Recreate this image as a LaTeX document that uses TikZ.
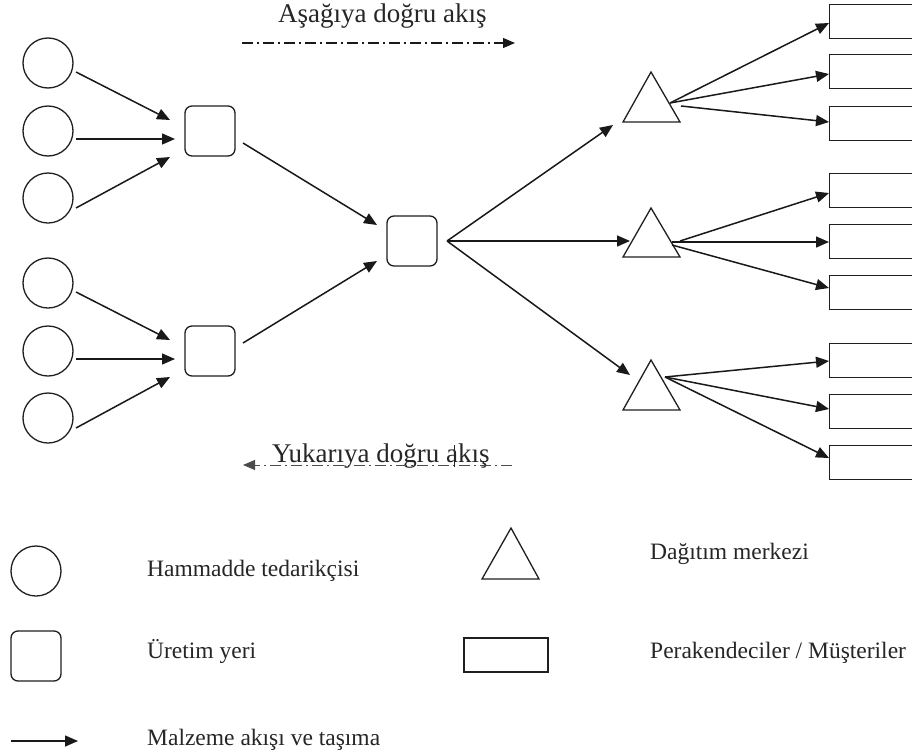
\documentclass[tikz,border=0pt]{standalone}
\usepackage{fontspec}
\setmainfont{Liberation Serif}
\usetikzlibrary{arrows.meta}
\begin{document}
\begin{tikzpicture}[x=1pt,y=-1pt,
  ink/.style={draw=black!88},
  supplier/.style={circle, ink, line width=1.3pt, minimum size=50pt, inner sep=0pt},
  plant/.style={rectangle, rounded corners=7pt, ink, line width=1.3pt, minimum size=50pt, inner sep=0pt},
  retail/.style={rectangle, ink, line width=1.3pt, minimum width=120pt, minimum height=34pt, inner sep=0pt, anchor=north west},
  tri/.style={ink, line width=1.3pt, line join=miter},
  arr/.style={draw=black!90, line width=1.5pt, -{Triangle[length=13pt,width=11pt]}},
  flow/.style={draw=black!90, line width=1.2pt, dash pattern=on 11pt off 4pt on 2pt off 4pt},
  title/.style={font=\fontsize{27}{30}\selectfont, text=black!85, anchor=base west, inner sep=0pt},
  legend/.style={font=\fontsize{23.5}{26}\selectfont, text=black!85, anchor=base west, inner sep=0pt}]
\clip (0,0) rectangle (912,755);
\fill[white] (0,0) rectangle (912,755);

% suppliers
\node[supplier] (s1) at (48,63) {};
\node[supplier] (s2) at (48,131) {};
\node[supplier] (s3) at (48,198) {};
\node[supplier] (s4) at (48,283) {};
\node[supplier] (s5) at (48,351) {};
\node[supplier] (s6) at (48,418) {};
% plants
\node[plant] (p1) at (210,131) {};
\node[plant] (p2) at (210,351) {};
\node[plant] (pc) at (412,241) {};
% distribution centres
\draw[tri] (651,72) coordinate (d1) -- (623,122) -- (680,122) -- cycle;
\draw[tri] (651,208) coordinate (d2) -- (623,257) -- (680,257) -- cycle;
\draw[tri] (651,360) coordinate (d3) -- (623,410) -- (680,410) -- cycle;
% retailers
\node[retail] (r1) at (829,4) {};
\node[retail] (r2) at (829,54) {};
\node[retail] (r3) at (829,106) {};
\node[retail] (r4) at (829,173) {};
\node[retail] (r5) at (829,224) {};
\node[retail] (r6) at (829,275) {};
\node[retail] (r7) at (829,343) {};
\node[retail] (r8) at (829,394) {};
\node[retail] (r9) at (829,445) {};

% arrow end points
\coordinate (a1s) at (76,72);  \coordinate (a1e) at (170,120);
\coordinate (a2s) at (76,139); \coordinate (a2e) at (175,139);
\coordinate (a3s) at (76,208); \coordinate (a3e) at (170,157);
\coordinate (b1s) at (76,292); \coordinate (b1e) at (170,340);
\coordinate (b2s) at (76,359); \coordinate (b2e) at (175,359);
\coordinate (b3s) at (76,428); \coordinate (b3e) at (170,377);
\coordinate (p1o) at (243,143); \coordinate (pci1) at (377,225);
\coordinate (p2o) at (243,343); \coordinate (pci2) at (377,261);
\coordinate (pco) at (447,241);
\coordinate (d1i) at (613,125); \coordinate (d2i) at (630,241); \coordinate (d3i) at (630,375);
\coordinate (d1o) at (670,103); \coordinate (d1o2) at (681,106);
\coordinate (d2o) at (680,241); \coordinate (d2o2) at (672,242); \coordinate (d2o3) at (672,245);
\coordinate (d3o) at (665,377);
\coordinate (r1i) at (829,23);  \coordinate (r2i) at (829,74);  \coordinate (r3i) at (829,122);
\coordinate (r4i) at (829,193); \coordinate (r5i) at (829,242); \coordinate (r6i) at (829,288);
\coordinate (r7i) at (829,361); \coordinate (r8i) at (829,409); \coordinate (r9i) at (829,458);

\draw[arr] (a1s) -- (a1e);
\draw[arr] (a2s) -- (a2e);
\draw[arr] (a3s) -- (a3e);
\draw[arr] (b1s) -- (b1e);
\draw[arr] (b2s) -- (b2e);
\draw[arr] (b3s) -- (b3e);
\draw[arr] (p1o) -- (pci1);
\draw[arr] (p2o) -- (pci2);
\draw[arr] (pco) -- (d1i);
\draw[arr] (pco) -- (d2i);
\draw[arr] (pco) -- (d3i);
\draw[arr] (d1o) -- (r1i);
\draw[arr] (d1o) -- (r2i);
\draw[arr] (d1o2) -- (r3i);
\draw[arr] (d2o) -- (r4i);
\draw[arr] (d2o2) -- (r5i);
\draw[arr] (d2o3) -- (r6i);
\draw[arr] (d3o) -- (r7i);
\draw[arr] (d3o) -- (r8i);
\draw[arr] (d3o) -- (r9i);

% flow labels
\node[title] (down) at (278,22) {Aşağıya doğru akış};
\coordinate (dns) at (242,43); \coordinate (dne) at (515,43);
\draw[flow, -{Triangle[length=12pt,width=10pt]}] (dns) -- (dne);
\node[title] (up) at (272,462) {Yukarıya doğru akış};
\coordinate (ups) at (512,465); \coordinate (upe) at (243,465);
\draw[flow, draw=black!70, line width=1pt, -{Triangle[length=12pt,width=10pt]}] (ups) -- (upe);
\coordinate (cur1) at (454,445); \coordinate (cur2) at (454,467);
\draw[black!85, line width=0.9pt] (cur1) -- (cur2);

% legend
\node[supplier] (ls) at (36,571) {};
\node[legend] (lst) at (147,576) {Hammadde tedarikçisi};
\node[plant] (lp) at (36,656) {};
\node[legend] (lpt) at (147,658) {Üretim yeri};
\coordinate (las) at (11,741); \coordinate (lae) at (78,741);
\draw[arr] (las) -- (lae);
\node[legend] (lat) at (147,745) {Malzeme akışı ve taşıma};
\draw[tri] (511,528) coordinate (ld) -- (482,579) -- (539,579) -- cycle;
\node[legend] (ldt) at (650,559) {Dağıtım merkezi};
\node[rectangle, ink, line width=1.3pt, minimum width=84pt, minimum height=34pt, inner sep=0pt] (lr) at (506,655) {};
\node[legend] (lrt) at (650,658) {Perakendeciler / Müşteriler};
\end{tikzpicture}
\end{document}
